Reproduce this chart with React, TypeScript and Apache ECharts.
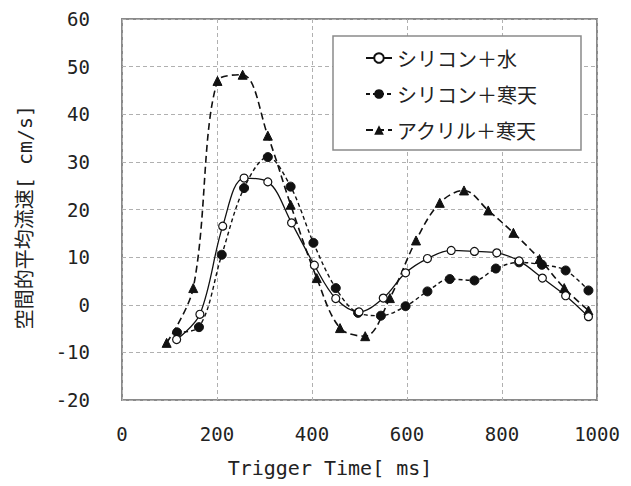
import React, { useEffect, useRef } from "react";
import * as echarts from "echarts";

const seriesNames = ["シリコン＋水", "シリコン＋寒天", "アクリル＋寒天"];

const waterX = [115, 164, 212, 257, 307, 357, 405, 450, 499, 550, 597, 643, 693, 742, 789, 836, 885, 934, 982];
const waterY = [-7.3, -2, 16.5, 26.6, 25.8, 17.2, 8.3, 1.3, -1.5, 1.4, 6.7, 9.7, 11.4, 11.2, 10.9, 9.2, 5.6, 1.9, -2.5];

const agarX = [116, 162, 210, 257, 307, 355, 403, 450, 497, 545, 597, 643, 690, 742, 787, 836, 884, 934, 982];
const agarY = [-5.8, -4.7, 10.5, 24.5, 31, 24.8, 13, 3.5, -1.7, -2.3, -0.3, 2.8, 5.4, 5.1, 7.6, 8.9, 8.4, 7.2, 3];

const acrylX = [94, 150, 201, 254, 307, 355, 410, 459, 512, 564, 619, 669, 720, 771, 824, 879, 931, 982];
const acrylY = [-8, 3.5, 47, 48.3, 35.5, 21, 5.6, -4.9, -6.6, 1.4, 13.5, 21.4, 24, 19.8, 15.1, 9.6, 3.5, -1.2];

const xTitle = "Trigger Time[ ms]";
const yTitle = "空間的平均流速[ cm/s]";

const FONT = "'Noto Sans CJK JP', 'Noto Sans', sans-serif";
const MONO = "'DejaVu Sans Mono', 'Noto Sans CJK JP', monospace";

function pairs(xs: number[], ys: number[]) {
  return xs.map((x, i) => [x, ys[i]]);
}

export default function App() {
  const ref = useRef<HTMLDivElement>(null);
  useEffect(() => {
    if (!ref.current) return;
    const chart = echarts.init(ref.current, null, { renderer: "svg" });
    chart.setOption({
      animation: false,
      backgroundColor: "#fff",
      textStyle: { fontFamily: FONT },
      grid: {
        left: 122,
        top: 19,
        right: 34,
        bottom: 86,
        show: true,
        borderColor: "#8a8a8a",
        borderWidth: 2,
        backgroundColor: "#fff",
      },
      legend: {
        orient: "vertical",
        left: 333,
        top: 36,
        data: seriesNames,
        backgroundColor: "#fff",
        borderColor: "#8a8a8a",
        borderWidth: 1.5,
        padding: [11, 44, 9, 32],
        itemWidth: 26,
        itemHeight: 12,
        itemGap: 14,
        textStyle: { fontSize: 20, color: "#222", fontFamily: FONT, lineHeight: 22 },
      },
      xAxis: {
        type: "value",
        min: 0,
        max: 1000,
        interval: 200,
        axisLine: { show: false },
        axisTick: { show: false },
        axisLabel: {
          fontSize: 19,
          color: "#222",
          margin: 24,
          fontFamily: MONO,
          formatter: (v: number) => String(v),
        },
        splitLine: { show: true, lineStyle: { color: "#b0b0b0", type: [4, 3], width: 1 } },
      },
      yAxis: {
        type: "value",
        min: -20,
        max: 60,
        interval: 10,
        axisLine: { show: false },
        axisTick: { show: false },
        axisLabel: {
          fontSize: 19,
          color: "#222",
          margin: 32,
          fontFamily: MONO,
          formatter: (v: number) => String(v),
        },
        splitLine: { show: true, lineStyle: { color: "#b0b0b0", type: [4, 3], width: 1 } },
      },
      graphic: [
        {
          type: "text",
          x: 330,
          y: 468,
          style: {
            text: xTitle,
            fontSize: 20,
            fill: "#222",
            fontFamily: MONO,
            align: "center",
            verticalAlign: "middle",
          },
        },
        {
          type: "text",
          x: 25,
          y: 217,
          rotation: Math.PI / 2,
          style: {
            text: yTitle,
            fontSize: 20,
            fill: "#222",
            fontFamily: MONO,
            align: "center",
            verticalAlign: "middle",
          },
        },
      ],
      series: [
        {
          name: seriesNames[0],
          type: "line",
          data: pairs(waterX, waterY),
          smooth: 0.35,
          symbol: "circle",
          symbolSize: 8,
          itemStyle: { color: "#fff", borderColor: "#111", borderWidth: 1.2 },
          lineStyle: { color: "#111", width: 1.3, type: "solid" },
          z: 3,
        },
        {
          name: seriesNames[1],
          type: "line",
          data: pairs(agarX, agarY),
          smooth: 0.35,
          symbol: "circle",
          symbolSize: 9,
          itemStyle: { color: "#111", borderColor: "#111" },
          lineStyle: { color: "#111", width: 1.4, type: [4, 3] },
          z: 2,
        },
        {
          name: seriesNames[2],
          type: "line",
          data: pairs(acrylX, acrylY),
          smooth: 0.35,
          symbol: "triangle",
          symbolSize: 9,
          itemStyle: { color: "#111", borderColor: "#111" },
          lineStyle: { color: "#111", width: 1.6, type: [7, 4] },
          z: 2,
        },
      ],
    });
    return () => chart.dispose();
  }, []);
  return (
    <div
      ref={ref}
      style={{ position: "fixed", left: 0, top: 0, width: 631, height: 486 }}
    />
  );
}
